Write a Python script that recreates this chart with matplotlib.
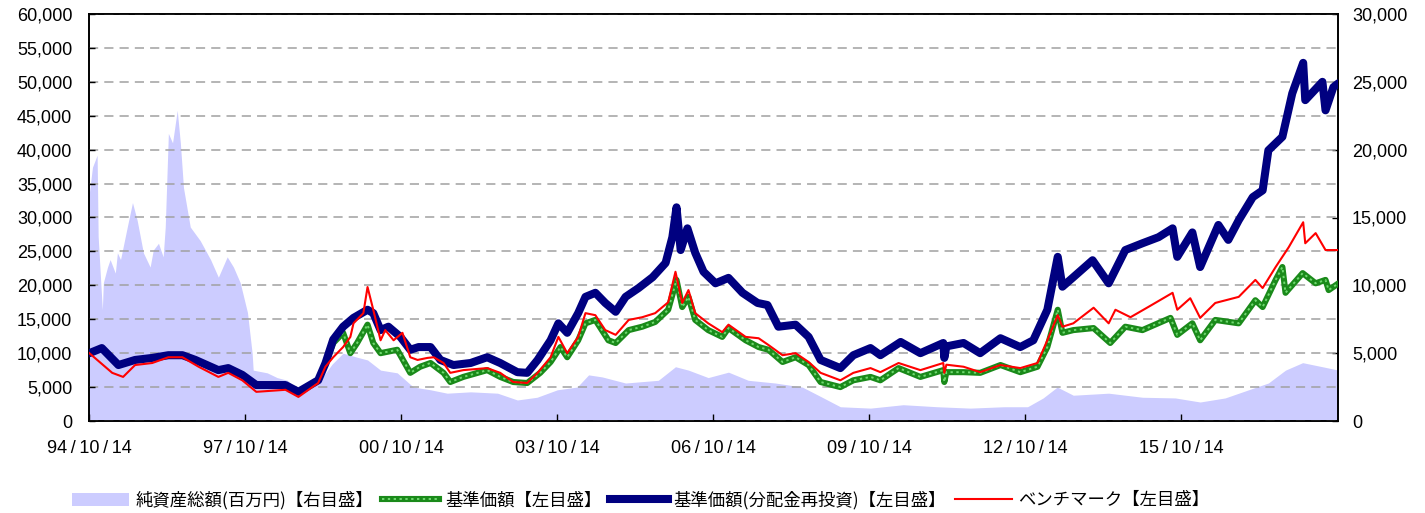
import matplotlib
matplotlib.use("Agg")
import matplotlib.pyplot as plt
import matplotlib.dates as mdates
from matplotlib.ticker import FixedLocator, FuncFormatter
from matplotlib.lines import Line2D
from matplotlib.patches import Patch
import datetime as dt
import numpy as np

# ---------------- data (decimal years, values) ----------------
# 基準価額（分配金再投資） - left axis
reinv_t = [1994.79, 1995.03, 1995.35, 1995.67, 1996.00, 1996.31, 1996.58, 1996.83, 1997.27, 1997.46,
           1997.73, 1998.00, 1998.56, 1998.81, 1999.19, 1999.33, 1999.48, 1999.67, 1999.87, 2000.14,
           2000.25, 2000.39, 2000.54, 2000.77, 2000.96, 2001.12, 2001.35, 2001.54, 2001.79, 2002.12,
           2002.44, 2002.69, 2003.02, 2003.21, 2003.41, 2003.66, 2003.81, 2003.98, 2004.19, 2004.33,
           2004.52, 2004.71, 2004.91, 2005.10, 2005.35, 2005.62, 2005.87, 2006.00, 2006.08, 2006.16,
           2006.29, 2006.44, 2006.60, 2006.83, 2007.08, 2007.35, 2007.64, 2007.83, 2008.04, 2008.37,
           2008.62, 2008.85, 2009.23, 2009.48, 2009.81, 2010.00, 2010.39, 2010.77, 2011.21, 2011.23,
           2011.27, 2011.60, 2011.92, 2012.31, 2012.69, 2012.94, 2013.21, 2013.41, 2013.50, 2013.71,
           2014.08, 2014.39, 2014.71, 2015.04, 2015.35, 2015.62, 2015.71, 2016.00, 2016.15, 2016.50,
           2016.69, 2016.89, 2017.16, 2017.35, 2017.46, 2017.73, 2017.92, 2018.13, 2018.17, 2018.50,
           2018.56, 2018.71, 2018.81]
reinv_v = [10000, 10750, 8250, 9000, 9300, 9700, 9700, 9000, 7500, 7800,
           6800, 5300, 5300, 4300, 6000, 8500, 12000, 13900, 15200, 16400,
           15900, 13400, 13900, 12400, 10500, 10900, 10900, 9000, 8250, 8550,
           9400, 8550, 7200, 7100, 9000, 11900, 14400, 13000, 15900, 18300,
           18900, 17400, 16100, 18300, 19600, 21200, 23300, 27100, 31500, 25200,
           28400, 24800, 22000, 20300, 21100, 18900, 17400, 17100, 13900, 14200,
           12400, 9000, 7800, 9700, 10750, 9700, 11650, 10000, 11500, 9300,
           11000, 11500, 10000, 12200, 10900, 11900, 16400, 24200, 19800, 21200,
           23700, 20300, 25200, 26200, 27100, 28400, 24200, 27800, 22700, 28900,
           26700, 29600, 33000, 34000, 39900, 41900, 48300, 52800, 47300, 50000,
           45800, 49200, 49800]

# 基準価額 - left axis
nav_t = [1994.79, 1995.03, 1995.35, 1995.67, 1996.00, 1996.31, 1996.58, 1996.83, 1997.27, 1997.46,
         1997.73, 1998.00, 1998.56, 1998.81, 1999.19, 1999.33, 1999.48, 1999.67, 1999.81, 1999.94,
         2000.14, 2000.25, 2000.39, 2000.71, 2000.96, 2001.15, 2001.35, 2001.60, 2001.73, 2001.98,
         2002.44, 2002.69, 2002.94, 2003.21, 2003.46, 2003.66, 2003.85, 2003.98, 2004.19, 2004.33,
         2004.52, 2004.77, 2004.91, 2005.16, 2005.42, 2005.67, 2005.92, 2006.08, 2006.19, 2006.31,
         2006.44, 2006.69, 2006.96, 2007.08, 2007.41, 2007.66, 2007.85, 2008.12, 2008.37, 2008.62,
         2008.85, 2009.23, 2009.48, 2009.81, 2010.00, 2010.35, 2010.77, 2011.21, 2011.23, 2011.27,
         2011.60, 2011.92, 2012.31, 2012.69, 2013.02, 2013.21, 2013.41, 2013.50, 2013.71, 2014.10,
         2014.42, 2014.71, 2015.04, 2015.58, 2015.71, 2016.00, 2016.15, 2016.44, 2016.89, 2017.21,
         2017.35, 2017.60, 2017.73, 2017.79, 2018.12, 2018.37, 2018.56, 2018.62, 2018.81]
nav_v = [10000, 10750, 8250, 9000, 9300, 9700, 9700, 9000, 7500, 7800,
         6800, 5300, 5300, 4300, 6000, 8500, 11500, 13000, 10000, 11500,
         14200, 11500, 10000, 10500, 7100, 8000, 8550, 7100, 5750, 6500,
         7500, 6500, 5750, 5600, 7100, 8700, 10900, 9400, 11900, 14400,
         14900, 11900, 11500, 13400, 13900, 14600, 16400, 20800, 16800, 18300,
         14900, 13400, 12400, 13700, 11900, 10900, 10500, 8700, 9400, 8250,
         5750, 5000, 6000, 6500, 6000, 7800, 6500, 7500, 5750, 7200,
         7200, 7100, 8250, 7200, 8000, 10900, 16400, 13000, 13400, 13700,
         11500, 13900, 13400, 15200, 12700, 14400, 11900, 14900, 14400, 17800,
         16800, 20800, 22700, 18900, 21800, 20300, 20800, 19300, 20300]

# ベンチマーク - left axis
bm_t = [1994.79, 1995.23, 1995.44, 1995.67, 1996.00, 1996.31, 1996.58, 1996.89, 1997.27, 1997.46,
        1997.73, 1998.00, 1998.56, 1998.81, 1999.19, 1999.33, 1999.48, 1999.67, 1999.81, 1999.87,
        2000.06, 2000.14, 2000.25, 2000.39, 2000.48, 2000.64, 2000.81, 2000.96, 2001.10, 2001.29,
        2001.41, 2001.60, 2001.73, 2001.98, 2002.44, 2002.69, 2002.94, 2003.21, 2003.41, 2003.66,
        2003.81, 2003.98, 2004.19, 2004.33, 2004.52, 2004.71, 2004.91, 2005.16, 2005.42, 2005.67,
        2005.92, 2006.06, 2006.19, 2006.31, 2006.44, 2006.69, 2006.96, 2007.08, 2007.41, 2007.66,
        2007.85, 2008.12, 2008.37, 2008.62, 2008.85, 2009.23, 2009.48, 2009.81, 2010.00, 2010.35,
        2010.77, 2011.21, 2011.23, 2011.27, 2011.60, 2011.92, 2012.31, 2012.69, 2013.02, 2013.21,
        2013.41, 2013.50, 2013.71, 2014.10, 2014.39, 2014.52, 2014.81, 2015.15, 2015.62, 2015.71,
        2015.96, 2016.15, 2016.44, 2016.89, 2017.21, 2017.35, 2017.60, 2017.85, 2018.13, 2018.17,
        2018.37, 2018.56, 2018.81]
bm_v = [10000, 7100, 6500, 8250, 8550, 9400, 9400, 8000, 6500, 7100,
        6000, 4300, 4600, 3550, 5600, 8000, 9400, 10900, 12400, 14400,
        15900, 19750, 16400, 11900, 13400, 11900, 13000, 9400, 9000, 9300,
        9400, 8550, 7100, 7500, 7800, 7100, 5750, 5600, 7100, 9400,
        12400, 10000, 12400, 15900, 15600, 13400, 12700, 14900, 15300, 15900,
        17500, 22000, 17400, 19300, 15900, 14400, 13100, 14200, 12400, 12200,
        11200, 9700, 10000, 8700, 7100, 6000, 7100, 7800, 7200, 8550,
        7500, 8550, 7100, 8300, 8000, 7200, 8250, 7800, 8550, 11900,
        15600, 13900, 14400, 16700, 14400, 16400, 15300, 16800, 18900, 16400,
        18100, 15200, 17400, 18300, 20800, 19600, 22700, 25600, 29300, 26200,
        27700, 25200, 25200]

# 純資産総額（百万円） - right axis
aum_t = [1994.79, 1994.85, 1994.94, 1994.96, 1995.04, 1995.06, 1995.14, 1995.19, 1995.29, 1995.33,
         1995.39, 1995.52, 1995.62, 1995.71, 1995.83, 1995.96, 1996.02, 1996.12, 1996.21, 1996.25,
         1996.31, 1996.39, 1996.48, 1996.54, 1996.60, 1996.73, 1996.92, 1997.12, 1997.27, 1997.44,
         1997.56, 1997.69, 1997.83, 1997.92, 1997.94, 1998.21, 1998.40, 1998.60, 1998.79, 1998.89,
         1999.19, 1999.46, 1999.67, 1999.94, 2000.14, 2000.39, 2000.71, 2001.02, 2001.35, 2001.67,
         2002.12, 2002.64, 2003.02, 2003.40, 2003.79, 2004.17, 2004.39, 2004.65, 2005.10, 2005.73,
         2006.06, 2006.31, 2006.69, 2007.08, 2007.46, 2007.98, 2008.50, 2008.88, 2009.23, 2009.81,
         2010.44, 2011.10, 2011.73, 2012.37, 2012.83, 2013.13, 2013.40, 2013.71, 2014.39, 2015.04,
         2015.67, 2016.15, 2016.63, 2017.08, 2017.46, 2017.79, 2018.12, 2018.50, 2018.81]
aum_v = [16800, 18700, 19600, 13600, 8200, 10200, 11350, 11900, 10900, 12400,
         11900, 14300, 16100, 14800, 12400, 11350, 12600, 13100, 12100, 14300,
         21200, 20500, 22900, 20500, 17200, 14300, 13300, 11900, 10600, 12100,
         11350, 10200, 8000, 5000, 3750, 3550, 3200, 3000, 2300, 2500,
         2800, 4200, 5000, 4700, 4500, 3750, 3550, 2500, 2300, 2050,
         2150, 2050, 1550, 1750, 2300, 2500, 3400, 3250, 2800, 3000,
         4000, 3750, 3200, 3600, 3000, 2800, 2500, 1750, 1050, 950,
         1200, 1050, 950, 1050, 1050, 1700, 2500, 1900, 2050, 1750,
         1700, 1400, 1700, 2300, 2800, 3750, 4300, 4000, 3750]

left_ticks = list(range(0, 60001, 5000))
right_ticks = list(range(0, 30001, 5000))
x_tick_years = [1994, 1997, 2000, 2003, 2006, 2009, 2012, 2015]

legend_labels = ["純資産総額(百万円)【右目盛】", "基準価額【左目盛】",
                 "基準価額(分配金再投資)【左目盛】", "ベンチマーク【左目盛】"]


def to_num(years):
    out = []
    for y in years:
        yi = int(y)
        start = dt.datetime(yi, 1, 1)
        days = (dt.datetime(yi + 1, 1, 1) - start).days
        out.append(mdates.date2num(start + dt.timedelta(days=(y - yi) * days)))
    return np.array(out)


NUM_FONT = "Liberation Sans"
JP_FONT = ["Noto Sans CJK JP", "DejaVu Sans"]

fig = plt.figure(figsize=(14.25, 5.13), dpi=100)
ax = fig.add_axes([89 / 1425, 1 - 421 / 513, (1338 - 89) / 1425, (421 - 14) / 513])
ax2 = ax.twinx()
ax.set_zorder(ax2.get_zorder() + 1)
ax.patch.set_visible(False)

# area on the right axis
at = to_num(aum_t)
ax2.fill_between(at, 0, aum_v, color="#CCCCFF", linewidth=0)
ax2.set_ylim(0, 30000)
ax2.set_yticks(right_ticks)

# lines on the left axis
nt = to_num(nav_t)
ax.plot(nt, nav_v, color="#1a8a1a", lw=4.4, solid_joinstyle="round", solid_capstyle="round", zorder=3)
ax.plot(nt, nav_v, color="#6fd86f", lw=1.4, linestyle=(0, (1.2, 1.8)), zorder=3.1)
ax.plot(to_num(reinv_t), reinv_v, color="#000080", lw=5.8, solid_joinstyle="round",
        solid_capstyle="round", zorder=4)
ax.plot(to_num(bm_t), bm_v, color="#FF0000", lw=1.5, zorder=5)

ax.set_ylim(0, 60000)
ax.set_yticks(left_ticks)
xmin = mdates.date2num(dt.datetime(1994, 10, 14))
xmax = mdates.date2num(dt.datetime(2018, 10, 20))
ax.set_xlim(xmin, xmax)
ax2.set_xlim(xmin, xmax)
ax.xaxis.set_major_locator(FixedLocator([mdates.date2num(dt.datetime(y, 10, 14)) for y in x_tick_years]))
ax.xaxis.set_major_formatter(FuncFormatter(
    lambda v, p: mdates.num2date(v).strftime("%y\u2009/\u2009%m\u2009/\u2009%d")))

fmt = FuncFormatter(lambda v, p: f"{int(v):,}")
ax.yaxis.set_major_formatter(fmt)
ax2.yaxis.set_major_formatter(fmt)

ax.grid(axis="y", color="#A0A0A0", linestyle=(0, (6, 4)), linewidth=1.1)
ax.tick_params(axis="y", direction="in", length=4, width=1, labelsize=13, pad=12)
ax.tick_params(axis="x", direction="in", length=5, width=1, labelsize=13, pad=14)
ax2.tick_params(axis="y", direction="in", length=4, width=1, labelsize=13, pad=10)
for lab in ax.get_xticklabels() + ax.get_yticklabels() + ax2.get_yticklabels():
    lab.set_fontfamily(NUM_FONT)
for a in (ax, ax2):
    for s in a.spines.values():
        s.set_linewidth(1.2)
        s.set_color("black")

handles = [
    Patch(facecolor="#CCCCFF", edgecolor="none"),
    (Line2D([], [], color="#1a8a1a", lw=4.4),
     Line2D([], [], color="#6fd86f", lw=1.4, linestyle=(0, (1.2, 1.8)))),
    Line2D([], [], color="#000080", lw=5.8),
    Line2D([], [], color="#FF0000", lw=1.5),
]
leg = fig.legend(handles, legend_labels, loc="center left", bbox_to_anchor=(72 / 1425, 13 / 513),
                 ncol=4, frameon=False, handlelength=3.3, handleheight=0.8, handletextpad=0.35,
                 columnspacing=0.5, borderaxespad=0, borderpad=0,
                 prop={"family": JP_FONT, "size": 12.5})

fig.savefig("out.png", dpi=100)
